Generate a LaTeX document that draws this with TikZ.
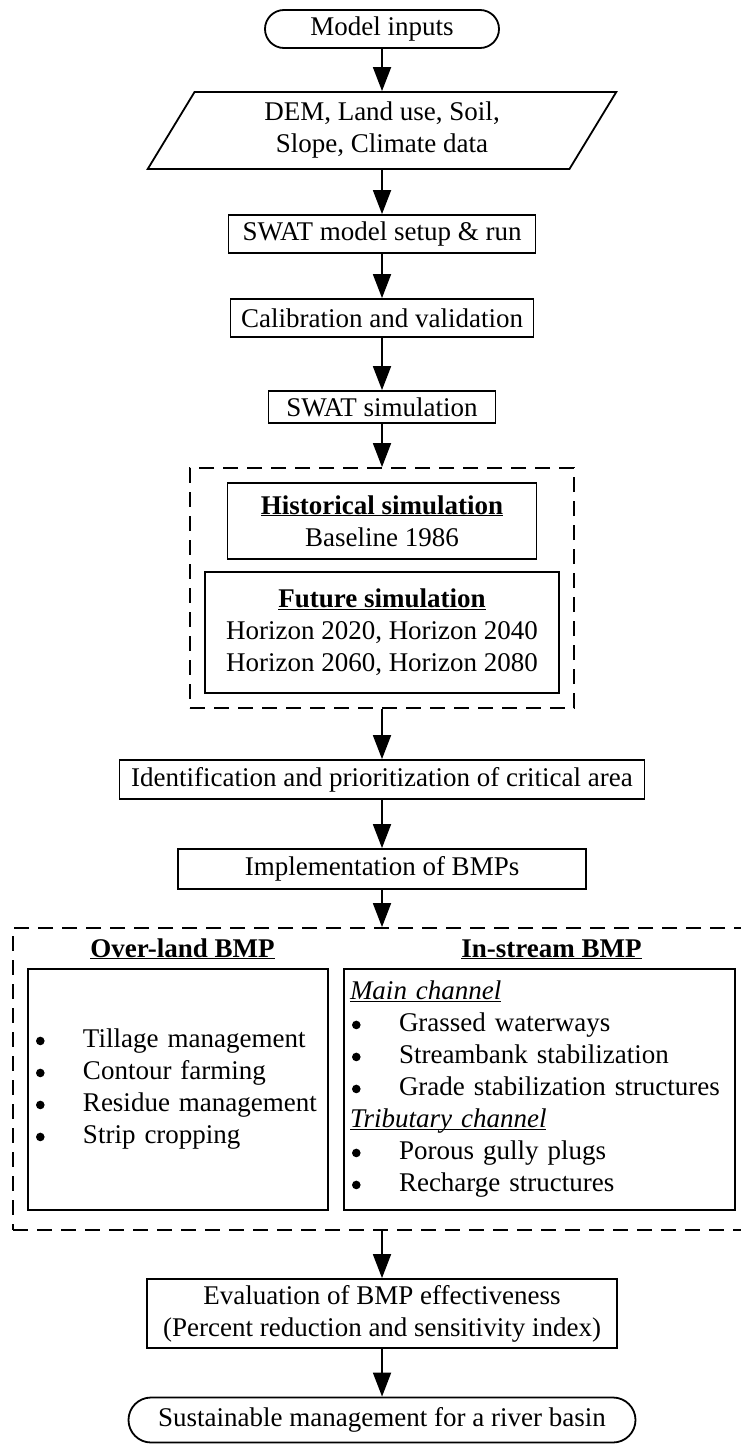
\documentclass[tikz,border=0pt]{standalone}
\usepackage{fontspec}
\setmainfont{Liberation Serif}
\usepackage{tikz}
\usetikzlibrary{arrows.meta,
	positioning,
	shapes.geometric,
	shapes.misc
}
\newcommand{\ulhead}[1]{{\setbox0\hbox{#1}\dp0=0pt\underline{\box0}}}
\newcommand{\bul}{\makebox[47pt][l]{\tikz[baseline=-7pt]\fill (0,0) circle[radius=4.3pt];}}
\tikzset{Flowchart/.style = {
		x=1pt, y=-1pt,
		every node/.style = {draw, line width=1.8pt, inner sep=0pt, align=center,
			font=\fontsize{27pt}{32pt}\selectfont
		},
		terminal/.style = {rounded rectangle},
		iobox/.style = {trapezium, trapezium stretches,
			trapezium left angle=62.5, trapezium right angle=117.5},
		frame/.style = {dash pattern=on 15pt off 9pt},
		heading/.style = {draw=none, anchor=base},
		listbox/.style = {align=left},
		flow/.style = {line width=1.8pt, -{Triangle[length=24pt,width=18pt]}}
	}% end of Flowchart style
}

\begin{document}
\begin{tikzpicture}[Flowchart] % {{{-3
  \useasboundingbox (0,0) rectangle (741,1446);
  \clip (0,0) rectangle (741,1446);

  \node[terminal, minimum width=234pt, minimum height=38pt] (Inputs) at (382,29) {Model inputs};
  \node[iobox, minimum width=470pt, minimum height=77pt] (Data) at (382,130.5) {DEM, Land use, Soil,\\Slope, Climate data};
  \node[minimum width=307pt, minimum height=38pt] (Setup) at (382,234) {SWAT model setup \& run};
  \node[minimum width=303pt, minimum height=38pt] (Calib) at (382,318) {Calibration and validation};
  \node[minimum width=227pt, minimum height=32pt] (Sim) at (382,407) {SWAT simulation};

  \begin{scope}
   \node[frame, minimum width=384pt, minimum height=240pt] (Scen) at (382,588) {};
   \node[minimum width=309pt, minimum height=76pt] (Hist) at (382,521)
     {\ulhead{\textbf{Historical simulation}}\\Baseline 1986};
   \node[minimum width=354pt, minimum height=121pt] (Fut) at (382,632.5)
     {\ulhead{\textbf{Future simulation}}\\Horizon 2020, Horizon 2040\\Horizon 2060, Horizon 2080};
  \end{scope}

  \node[minimum width=525pt, minimum height=39pt] (Ident) at (382,779.5) {Identification and prioritization of critical area};
  \node[minimum width=408pt, minimum height=40pt] (Impl) at (382,869) {Implementation of BMPs};

  \begin{scope}
   \node[frame, minimum width=757pt, minimum height=302pt] (BMP) at (391.5,1079) {};
   \node[heading] (OverHead) at (182.5,957) {\ulhead{\textbf{Over-land BMP}}};
   \node[heading] (InHead) at (551.5,957) {\ulhead{\textbf{In-stream BMP}}};
   \node[listbox, minimum width=300pt, minimum height=241pt, text width=284pt] (Over) at (178,1089.5)
     {\bul Tillage management\\\bul Contour farming\\\bul Residue management\\\bul Strip cropping};
   \node[listbox, minimum width=391pt, minimum height=241pt, text width=379pt] (In) at (539.5,1089.5)
     {\ulhead{\textit{Main channel}}\\
      \hspace*{2pt}\bul Grassed waterways\\
      \hspace*{2pt}\bul Streambank stabilization\\
      \hspace*{2pt}\bul Grade stabilization structures\\
      \ulhead{\textit{Tributary channel}}\\
      \hspace*{2pt}\bul Porous gully plugs\\
      \hspace*{2pt}\bul Recharge structures};
  \end{scope}

  \node[minimum width=470pt, minimum height=69pt] (Eval) at (382,1313.5)
    {Evaluation of BMP effectiveness\\(Percent reduction and sensitivity index)};
  \node[terminal, minimum width=507pt, minimum height=45pt] (Basin) at (382,1420) {Sustainable management for a river basin};

  \draw[flow] (Inputs) -- (Data);
  \draw[flow] (Data) -- (Setup);
  \draw[flow] (Setup) -- (Calib);
  \draw[flow] (Calib) -- (Sim);
  \draw[flow] (Sim) -- (Scen);
  \draw[flow] (Scen) -- (Ident);
  \draw[flow] (Ident) -- (Impl);
  \draw[flow] (Impl) -- (Impl |- BMP.north);
  \draw[flow] (BMP.south -| Impl) -- (Eval);
  \draw[flow] (Eval) -- (Basin);
 \end{tikzpicture}
\end{document}
